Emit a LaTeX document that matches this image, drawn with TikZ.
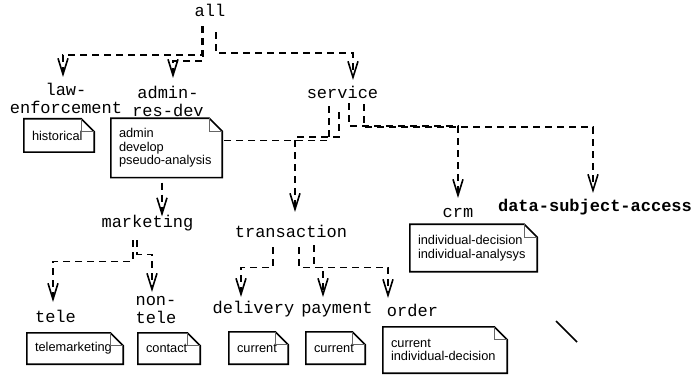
\documentclass[tikz,border=0pt]{standalone}
\usepackage{fontspec}
\usepackage{tikz}
\usetikzlibrary{arrows.meta,calc}
\newfontfamily\namefont{Liberation Mono}
\newfontfamily\notefont{Liberation Sans}
\tikzset{lbl/.style={font=\namefont\fontsize{17}{18}\selectfont,inner sep=0pt,anchor=north,text height=10.5pt,text depth=4pt},
  lbltwo/.style={font=\namefont\fontsize{17}{18}\selectfont,inner sep=0pt,anchor=north,align=center},
  note/.style={font=\notefont\fontsize{12.8}{13.5}\selectfont,inner xsep=8pt,inner ysep=0pt,align=left,execute at begin node={\exhyphenpenalty=10000}},
  noteline/.style={line width=1.6pt,line join=miter},
  foldline/.style={line width=0.7pt,black!60},
  edge/.style={->,line width=1.8pt,dash pattern=on 7pt off 5pt},
  >={Straight Barb[length=16pt,width=10pt,line width=1.6pt]}}

\begin{document}
\begin{tikzpicture}[x=1pt,y=-1pt]

\useasboundingbox (0,0) rectangle (694,377);

% Nodes
\node[lbl] (all) at (210,5.5) {all};
\node[lbltwo] (law) at (66,83) {law-\\enforcement};
\node[lbltwo] (admin) at (168,86) {admin-\\res-dev};
\node[lbl] (service) at (342.5,87.5) {service};
\node[lbl] (crm) at (458,206.5) {crm};
\node[lbl,font=\namefont\bfseries\fontsize{17}{18}\selectfont] (dsa) at (595,200.5) {data-subject-access};
\node[lbl] (marketing) at (147.5,216.5) {marketing};
\node[lbl] (transaction) at (291,226.5) {transaction};
\node[lbl] (tele) at (55.5,311.5) {tele};
\node[lbltwo] (nontele) at (156,296) {non-\\tele};
\node[lbl] (delivery) at (253.5,302.5) {delivery};
\node[lbl] (payment) at (337,302.5) {payment};
\node[lbl] (order) at (412.5,305.5) {order};

% The notes
\node[note,text width=54pt,minimum height=33pt] (histnote) at (59,135.5) {\raisebox{-2pt}{historical}};
\node[note,text width=95pt,minimum height=59pt] (admnote) at (166.5,148) {admin\\develop\\pseudo-analysis};
\node[note,text width=111pt,minimum height=47pt] (crmnote) at (473.5,248) {individual-decision\\individual-analysys};
\node[note,text width=80pt,minimum height=31pt] (telenote) at (75,348.5) {telemarketing};
\node[note,text width=46pt,minimum height=31pt] (contnote) at (169,348.5) {contact};
\node[note,text width=43pt,minimum height=32pt] (delnote) at (258.5,348) {current};
\node[note,text width=43pt,minimum height=32pt] (paynote) at (335.5,348) {current};
\node[note,text width=108pt,minimum height=46pt] (ordnote) at (445,350) {current\\individual-decision};

\foreach \n in {histnote,admnote,crmnote,telenote,contnote,delnote,paynote,ordnote} {
  \draw[noteline] (\n.south west) -- (\n.north west) -- ([xshift=-13pt]\n.north east) -- ([yshift=-13pt]\n.north east) -- (\n.south east) -- cycle;
  \draw[foldline] ([xshift=-13pt]\n.north east) |- ([yshift=-13pt]\n.north east);
}

% Edges out of all
\draw[edge] ([xshift=-8pt,yshift=-6pt]all.south) -- ++(0,29) -| ([xshift=-3pt,yshift=6pt]law.north);
\draw[edge] ([xshift=-7pt,yshift=-6pt]all.south) -- ++(0,35) -| ([xshift=5pt,yshift=8pt]admin.north);
\draw[edge] ([xshift=6pt,yshift=-12pt]all.south) -- ++(0,21) -| ([xshift=10.5pt,yshift=7.5pt]service.north);

% Edges out of service
\draw[edge,-] ([xshift=-13.5pt,yshift=-4pt]service.south) |- ([yshift=7.5pt]admnote.east);
\draw[edge] ([xshift=-3.5pt,yshift=-10pt]service.south) -- ++(0,25) -| ([xshift=4pt,yshift=14.5pt]transaction.north);
\draw[edge] ([xshift=6.5pt,yshift=-1pt]service.south) -- ++(0,23) -| ([yshift=8.5pt]crm.north);
\draw[edge] ([xshift=21.5pt,yshift=-2pt]service.south) -- ++(0,23) -| ([xshift=-2pt,yshift=7.5pt]dsa.north);

% Edges further down
\draw[edge] ([xshift=-4.5pt,yshift=-5pt]admnote.south) -- ([xshift=14.5pt]marketing.north);
\draw[edge] ([xshift=-14.5pt,yshift=-9pt]marketing.south) -- ++(0,21) -| ([xshift=-2.5pt,yshift=9.5pt]tele.north);
\draw[edge] ([xshift=-10.5pt,yshift=-9pt]marketing.south) -- ++(0,14) -| ([xshift=-4pt,yshift=4pt]nontele.north);
\draw[edge] ([xshift=-18pt,yshift=-6pt]transaction.south) -- ++(0,20) -| ([xshift=-12.5pt,yshift=5.5pt]delivery.north);
\draw[edge] ([xshift=8pt,yshift=-6pt]transaction.south) -- ++(0,20) -| ([xshift=-14pt,yshift=5.5pt]payment.north);
\draw[edge] ([xshift=23pt,yshift=-4pt]transaction.south) -- ++(0,22) -| ([xshift=-24.5pt,yshift=7.5pt]order.north);

% Stray stroke
\coordinate (st1) at (556,321);
\coordinate (st2) at (577,342);
\draw[line width=1.6pt] (st1) -- (st2);

\end{tikzpicture}
\end{document}
